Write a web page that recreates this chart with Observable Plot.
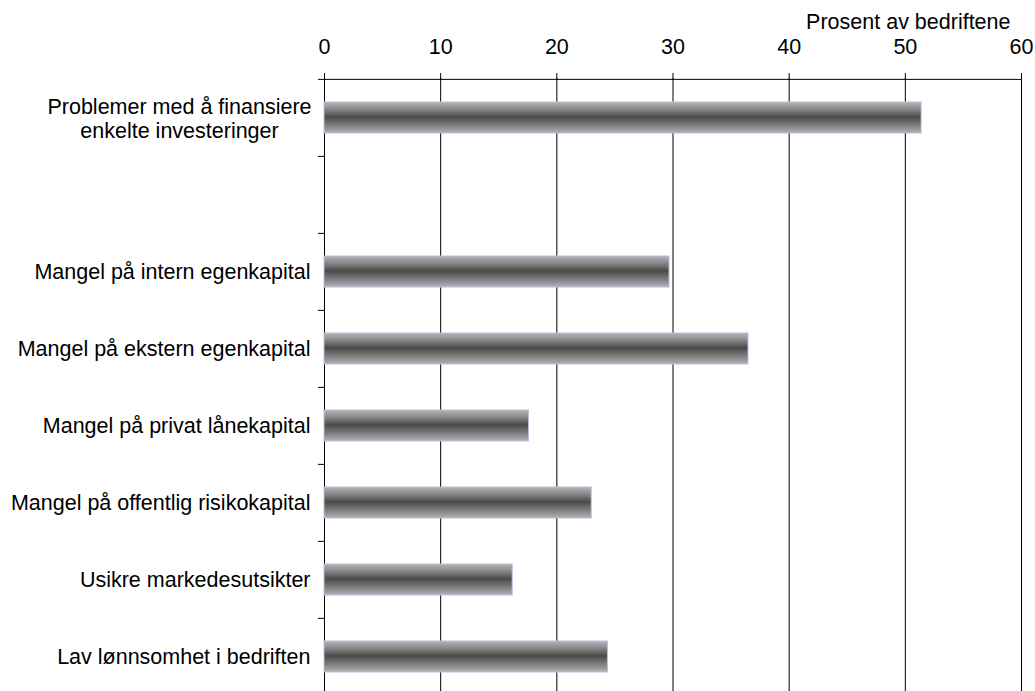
<!DOCTYPE html>
<html>
<head>
<meta charset="utf-8">
<script src="https://cdn.jsdelivr.net/npm/d3@7"></script>
<script src="https://cdn.jsdelivr.net/npm/@observablehq/plot@0.6"></script>
<style>
  body { margin: 0; background: #fff; }
  #chart svg { display: block; }
</style>
</head>
<body>
<div id="chart"></div>
<script>
// Reasons given by firms, share of firms (percent)
const categories = [
  "Problemer med å finansiere\nenkelte investeringer",
  "",
  "Mangel på intern egenkapital",
  "Mangel på ekstern egenkapital",
  "Mangel på privat lånekapital",
  "Mangel på offentlig risikokapital",
  "Usikre markedesutsikter",
  "Lav lønnsomhet i bedriften"
];
const values = [51.4, null, 29.7, 36.5, 17.6, 23.0, 16.2, 24.4];
const xTicks = [0, 10, 20, 30, 40, 50, 60];
const xLabel = "Prosent av bedriftene";

const rows = categories
  .map((category, i) => ({category, value: values[i]}))
  .filter(d => d.value != null);

const singleLineLabels = categories.filter(c => c && !c.includes("\n"));
const multiLineLabels = categories.filter(c => c.includes("\n"));

const W = 1035, H = 691;
const yRange = [78, 696];
const step = (yRange[1] - yRange[0]) / categories.length;
const FS = 21.5;

// vertical shading that gives the bars a rounded, tube-like look
const defs = () => {
  const d = d3.create("svg:defs");
  const g = d.append("linearGradient")
    .attr("id", "tube")
    .attr("x1", 0).attr("y1", 0).attr("x2", 0).attr("y2", 1);
  [[0, "#b4b4b4"], [0.22, "#8a8a8a"], [0.48, "#4a4a4a"], [0.75, "#7e7e7e"], [1, "#b2b2b2"]]
    .forEach(([o, c]) => g.append("stop").attr("offset", o).attr("stop-color", c));
  return d.node();
};

const chart = Plot.plot({
  width: W,
  height: H,
  marginTop: 78,
  marginLeft: 324,
  marginRight: 14,
  marginBottom: 0,
  style: {
    fontFamily: "'Liberation Sans', Arial, Helvetica, sans-serif",
    fontSize: FS + "px",
    color: "#000",
    background: "#fff"
  },
  x: {domain: [0, 60], axis: null},
  y: {domain: categories, range: yRange, padding: 0, axis: null},
  marks: [
    defs,
    Plot.gridX(xTicks.slice(1), {stroke: "#000", strokeOpacity: 1}),
    Plot.ruleX([0], {stroke: "#000"}),
    Plot.axisX({
      anchor: "top",
      ticks: xTicks,
      tickSize: 6,
      tickPadding: 19,
      label: null,
      fontSize: FS
    }),
    // top edge of the plot area
    Plot.ruleY([categories[0]], {x1: 0, x2: 60, dy: -step / 2, stroke: "#000"}),
    // small ticks on the left axis between categories
    Plot.ruleY(categories, {x1: 0, x2: 0, insetLeft: -6, dy: -step / 2, stroke: "#000"}),
    Plot.barX(rows, {
      y: "category",
      x: "value",
      fill: "url(#tube)",
      stroke: "#bdbde8",
      strokeWidth: 1,
      insetTop: 23,
      insetBottom: 23
    }),
    Plot.text(singleLineLabels, {
      y: d => d,
      text: d => d,
      frameAnchor: "left",
      textAnchor: "end",
      dx: -14,
      fontSize: FS,
      fill: "#000"
    }),
    Plot.text(multiLineLabels, {
      y: d => d,
      text: d => d,
      frameAnchor: "left",
      textAnchor: "middle",
      dx: -145,
      lineHeight: 1.12,
      fontSize: FS,
      fill: "#000"
    }),
    Plot.text([xLabel], {
      frameAnchor: "top-right",
      textAnchor: "end",
      lineAnchor: "bottom",
      dx: -11,
      dy: -50,
      fontSize: FS,
      fill: "#000"
    })
  ]
});

document.getElementById("chart").append(chart);
</script>
</body>
</html>
